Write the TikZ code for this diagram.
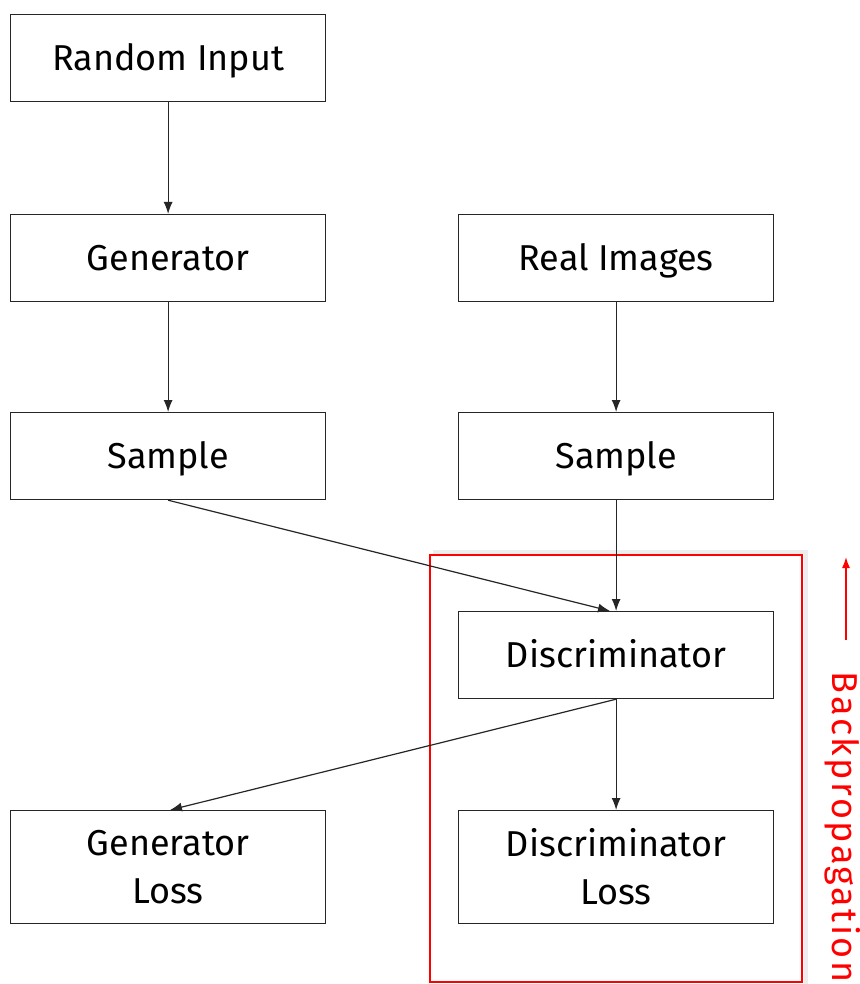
\documentclass[tikz,border=0pt]{standalone}
\usepackage{fontspec}
\setmainfont{Fira Sans}
\usetikzlibrary{arrows.meta}
\begin{document}
\begin{tikzpicture}[x=1pt,y=-1pt,
  blk/.style={draw=black!85,line width=1.2pt,minimum width=315pt,minimum height=87pt,inner sep=0pt,
    font=\fontsize{36}{48}\selectfont,anchor=north west},
  one/.style={text height=25pt,text depth=0pt},
  two/.style={align=center,minimum height=113pt},
  con/.style={draw=black!85,line width=1.2pt,-{Latex[length=12pt,width=9pt]}}]
\useasboundingbox (0,0) rectangle (859,984);
\fill[white] (0,0) rectangle (859,984);
% red frame with faint shadow
\draw[black!7,line width=4pt] (433,552) -- (806,552) -- (806,986);
\draw[red,line width=1.2pt] (430,555) rectangle (802,982);
\node[blk,one] (ri) at (10,14) {Random Input};
\node[blk,one] (gen) at (10,214) {Generator};
\node[blk,one] (real) at (458,214) {Real Images};
\node[blk,one] (s1) at (10,412) {Sample};
\node[blk,one] (s2) at (458,412) {Sample};
\node[blk,one] (dis) at (458,611) {Discriminator};
\node[blk,two] (gl) at (10,810) {Generator\\Loss};
\node[blk,two] (dl) at (458,810) {Discriminator\\Loss};
\coordinate (dtop) at (610,611);
\coordinate (glt) at (170,810);
\draw[con] (ri.south) -- (gen.north);
\draw[con] (gen.south) -- (s1.north);
\draw[con] (real.south) -- (s2.north);
\draw[con] (s2.south) -- (dis.north);
\draw[con] (s1.south) -- (dtop);
\draw[con] (dis.south) -- (dl.north);
\draw[con] (dis.south) -- (glt);
% backpropagation
\coordinate (ba) at (846,640);
\coordinate (bb) at (846,557);
\draw[red,line width=1.4pt,-{Latex[length=11pt,width=8pt]}] (ba) -- (bb);
\node[red,rotate=-90,anchor=base,font=\fontsize{36}{40}\selectfont\addfontfeature{LetterSpace=7},inner sep=0pt] (bp) at (832,827) {Backpropagation};
\end{tikzpicture}
\end{document}
